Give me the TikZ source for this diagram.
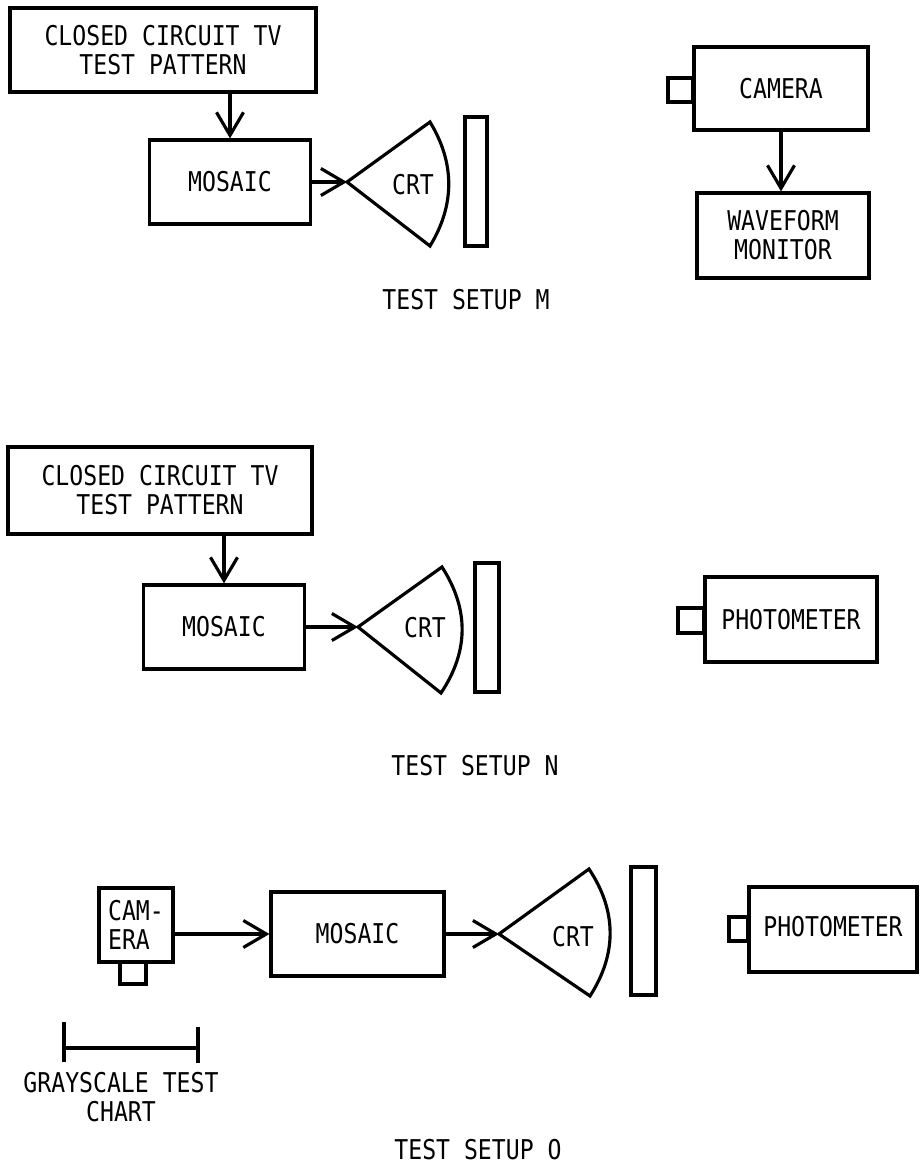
\documentclass[tikz,border=0pt]{standalone}
\usepackage{fontspec}
\newfontfamily\leroy{DejaVu Sans Mono}[FakeStretch=0.85]
\usetikzlibrary{arrows.meta,positioning}

\begin{document}
\begin{tikzpicture}[x=0.02cm, y=-0.02cm,
    line width=1.8pt, line join=miter,
    font=\leroy\fontsize{15.5}{16.5}\selectfont,
    box/.style={draw, rectangle, align=center, inner sep=2pt},
    feed/.style={-{Straight Barb[length=0.46cm, width=0.54cm]}},
    lbl/.style={inner sep=0pt, align=center}]
    \useasboundingbox (0,0) rectangle (921,1174);

    % Test setup M
    \node[box, minimum width=6.12cm, minimum height=1.68cm] (ccM) at (163,50) {CLOSED CIRCUIT TV\\TEST PATTERN};
    \node[box, minimum width=3.22cm, minimum height=1.68cm] (mosaicM) at (230,182) {MOSAIC};
    \draw[feed] (mosaicM.north |- ccM.south) -- (mosaicM.north);
    \coordinate (crtMa) at (347,182);
    \coordinate (crtMt) at (430,122);
    \coordinate (crtMb) at (430,246);
    \draw (crtMa) -- (crtMt) .. controls (455,163) and (455,205) .. (crtMb) -- cycle;
    \node[lbl] (crtM) at (413,185) {CRT};
    \draw[feed] (mosaicM.east) -- (crtMa);
    \draw (465,117) rectangle (487,246);
    \node[box, minimum width=3.48cm, minimum height=1.66cm] (cameraM) at (781,88.5) {CAMERA};
    \draw (cameraM.west |- 0,78) rectangle (668,102);
    \node[box, minimum width=3.44cm, minimum height=1.70cm] (waveM) at (783,235.5) {WAVEFORM\\MONITOR};
    \draw[feed] (cameraM.south) -- (cameraM.south |- waveM.north);
    \node[lbl] (titleM) at (466,300) {TEST SETUP M};

    % Test setup N
    \node[box, minimum width=6.08cm, minimum height=1.74cm] (ccN) at (160,490.5) {CLOSED CIRCUIT TV\\TEST PATTERN};
    \node[box, minimum width=3.22cm, minimum height=1.68cm] (mosaicN) at (224,627) {MOSAIC};
    \draw[feed] (mosaicN.north |- ccN.south) -- (mosaicN.north);
    \coordinate (crtNa) at (358,627);
    \coordinate (crtNt) at (442,567);
    \coordinate (crtNb) at (441,693);
    \draw (crtNa) -- (crtNt) .. controls (469,609) and (469,651) .. (crtNb) -- cycle;
    \node[lbl] (crtN) at (425,628) {CRT};
    \draw[feed] (mosaicN.east) -- (crtNa);
    \draw (475,563) rectangle (499,692);
    \node[box, minimum width=3.44cm, minimum height=1.70cm] (photoN) at (791,619.5) {PHOTOMETER};
    \draw (photoN.west |- 0,608) rectangle (678,633);
    \node[lbl] (titleN) at (475,766) {TEST SETUP N};

    % Test setup O
    \node[box, align=left, minimum width=1.48cm, minimum height=1.48cm] (cameraO) at (136,925) {CAM-\\ERA};
    \draw (120,962) rectangle (146,984);
    \node[box, minimum width=3.46cm, minimum height=1.68cm] (mosaicO) at (357.5,934) {MOSAIC};
    \draw[feed] (cameraO.east |- mosaicO.west) -- (mosaicO.west);
    \coordinate (crtOa) at (499,934);
    \coordinate (crtOt) at (589,869);
    \coordinate (crtOb) at (590,996);
    \draw (crtOa) -- (crtOt) .. controls (617,911) and (617,954) .. (crtOb) -- cycle;
    \node[lbl] (crtO) at (573,937) {CRT};
    \draw[feed] (mosaicO.east) -- (crtOa);
    \draw (631,867) rectangle (656,995);
    \node[box, minimum width=3.36cm, minimum height=1.70cm] (photoO) at (833,929.5) {\raisebox{4pt}{PHOTOMETER}};
    \draw (photoO.west |- 0,917) rectangle (729,941);

    % Grayscale chart
    \draw (64,1022) -- (64,1062);
    \draw (198,1027) -- (198,1063);
    \draw (64,1048) -- (198,1048);
    \node[lbl] (chartO) at (121,1097) {GRAYSCALE TEST\\CHART};
    \node[lbl] (titleO) at (478,1150) {TEST SETUP O};
\end{tikzpicture}
\end{document}
